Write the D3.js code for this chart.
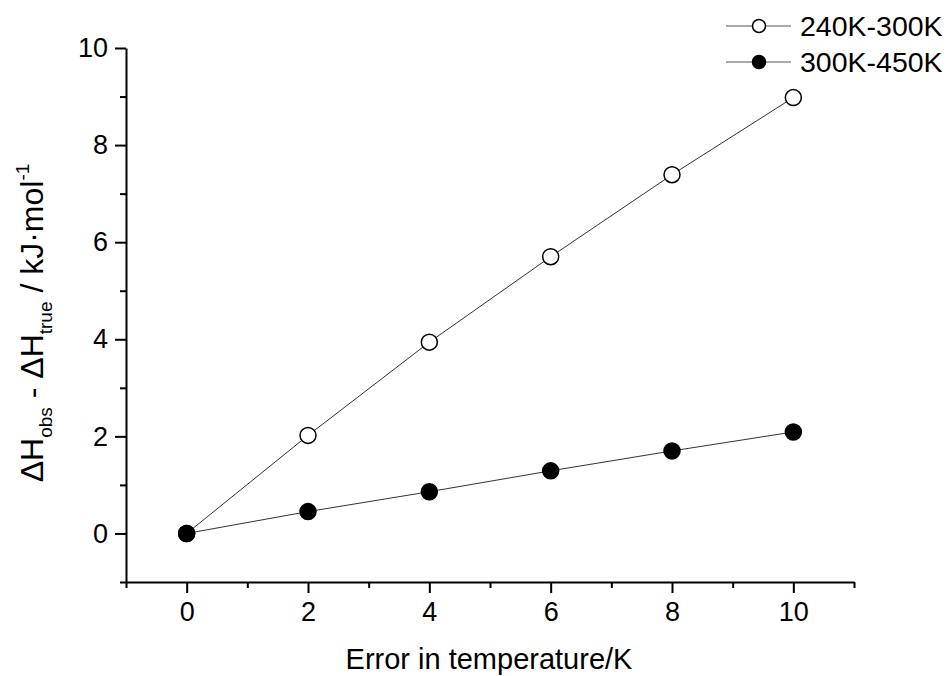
<!DOCTYPE html>
<html>
<head>
<meta charset="utf-8">
<script src="https://cdn.jsdelivr.net/npm/d3@7"></script>
<style>
  body { margin: 0; background: #fff; }
  svg { font-family: Arial, "Liberation Sans", sans-serif; }
</style>
</head>
<body>
<div id="chart"></div>
<script>
// data
var errors = [0, 2, 4, 6, 8, 10];
var low = [0, 2.02, 3.94, 5.70, 7.39, 8.98];     // 240K-300K
var high = [0, 0.45, 0.86, 1.29, 1.70, 2.09];    // 300K-450K
var seriesNames = ['240K-300K', '300K-450K'];
var xTicks = [0, 2, 4, 6, 8, 10];
var xMinor = [-1, 1, 3, 5, 7, 9, 11];
var yTicks = [0, 2, 4, 6, 8, 10];
var yMinor = [-1, 1, 3, 5, 7, 9];

var W = 950, H = 676;
var svg = d3.select('#chart').append('svg')
    .attr('width', W)
    .attr('height', H);

var x = d3.scaleLinear().domain([-1, 11]).range([126, 854]);
var y = d3.scaleLinear().domain([-1, 10]).range([582, 48]);

// minor ticks first
svg.append('g')
    .attr('transform', 'translate(0,' + y(-1) + ')')
    .call(d3.axisBottom(x).tickValues(xMinor).tickSize(6).tickSizeOuter(0).tickFormat(''))
    .call(g => g.select('.domain').remove());
svg.append('g')
    .attr('transform', 'translate(' + x(-1) + ',0)')
    .call(d3.axisLeft(y).tickValues(yMinor).tickSize(6).tickSizeOuter(0).tickFormat(''))
    .call(g => g.select('.domain').remove());

var xAxis = svg.append('g')
    .attr('transform', 'translate(0,' + y(-1) + ')')
    .call(d3.axisBottom(x).tickValues(xTicks).tickSize(11).tickSizeOuter(0).tickPadding(9));
var yAxis = svg.append('g')
    .attr('transform', 'translate(' + x(-1) + ',0)')
    .call(d3.axisLeft(y).tickValues(yTicks).tickSize(11).tickSizeOuter(0).tickPadding(7));

svg.selectAll('.tick line, .domain')
    .attr('stroke', '#000')
    .attr('stroke-width', 2);
svg.selectAll('.tick text')
    .attr('fill', '#000')
    .style('font-size', '27px');

// lines + markers
var line = d3.line()
    .x((d, i) => x(errors[i]))
    .y(d => y(d));

[[low, '#fff'], [high, '#000']].forEach(function(s) {
    svg.append('path')
        .attr('d', line(s[0]))
        .attr('fill', 'none')
        .attr('stroke', '#333')
        .attr('stroke-width', 1);
});
[[low, '#fff'], [high, '#000']].forEach(function(s) {
    svg.append('g').selectAll('circle')
        .data(s[0])
        .enter().append('circle')
        .attr('cx', (d, i) => x(errors[i]))
        .attr('cy', d => y(d))
        .attr('r', 8)
        .attr('fill', s[1])
        .attr('stroke', '#000')
        .attr('stroke-width', 1.5);
});

// legend
var legend = svg.append('g').selectAll('g')
    .data(seriesNames)
    .enter().append('g')
    .attr('transform', (d, i) => 'translate(0,' + (26 + i * 36) + ')');
legend.append('line')
    .attr('x1', 726).attr('x2', 791)
    .attr('stroke', '#555').attr('stroke-width', 1);
legend.append('circle')
    .attr('cx', 759).attr('r', 6.5)
    .attr('fill', (d, i) => i ? '#000' : '#fff')
    .attr('stroke', '#000').attr('stroke-width', 1.5);
legend.append('text')
    .attr('x', 800).attr('y', 10)
    .style('font-size', '28.5px')
    .text(d => d);

// axis titles
svg.append('text')
    .attr('x', 489).attr('y', 669)
    .attr('text-anchor', 'middle')
    .style('font-size', '29px')
    .text('Error in temperature/K');

var yt = svg.append('text')
    .attr('transform', 'translate(43,323) rotate(-90)')
    .attr('text-anchor', 'middle')
    .style('font-size', '32px');
yt.append('tspan').text('ΔH');
yt.append('tspan').attr('dy', 9).style('font-size', '19px').text('obs');
yt.append('tspan').attr('dy', -9).text(' - ΔH');
yt.append('tspan').attr('dy', 9).style('font-size', '19px').text('true');
yt.append('tspan').attr('dy', -9).text(' / kJ·mol');
yt.append('tspan').attr('dy', -14).style('font-size', '19px').text('-1');
</script>
</body>
</html>
